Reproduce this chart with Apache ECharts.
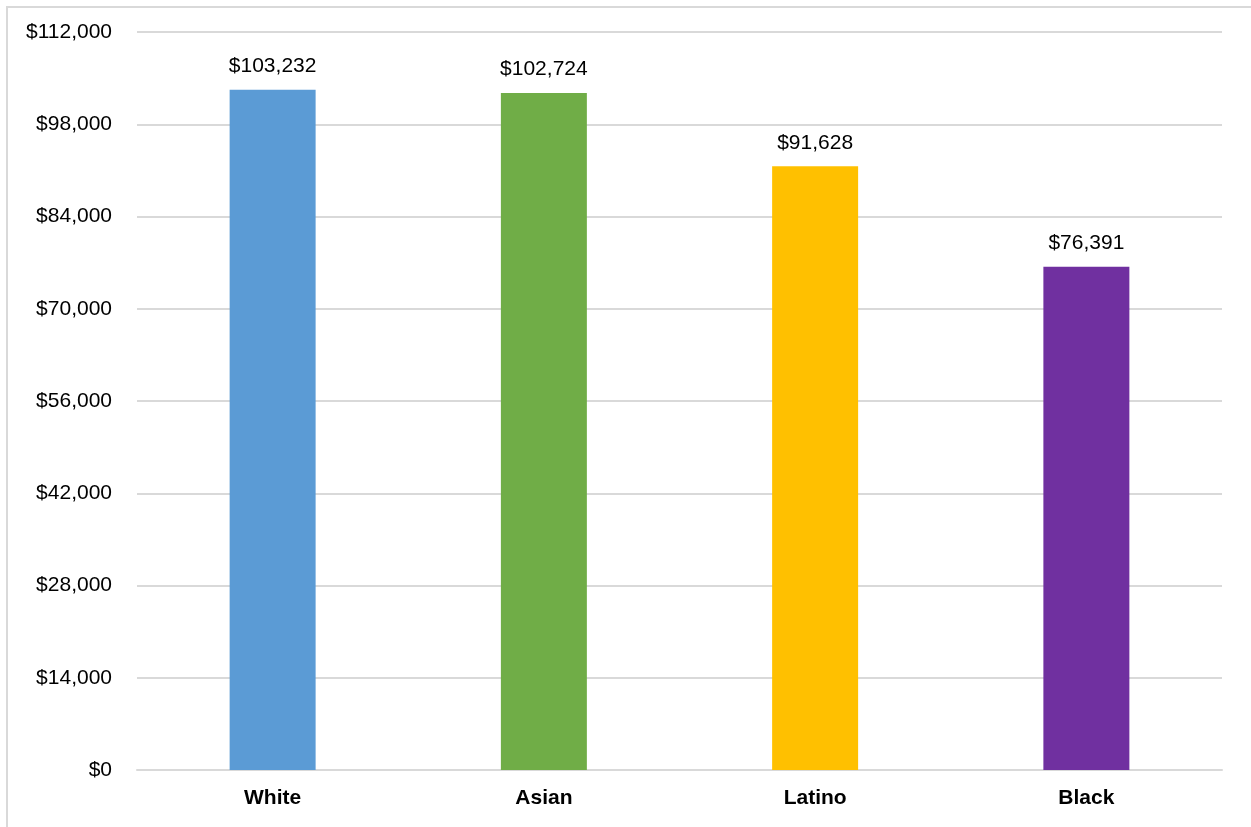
<!DOCTYPE html>
<html>
<head>
<meta charset="utf-8">
<script src="https://cdn.jsdelivr.net/npm/echarts@6/dist/echarts.min.js"></script>
<style>
html,body{margin:0;padding:0;background:#fff;}
#c{width:1251px;height:827px;}
</style>
</head>
<body>
<div id="c"></div>
<script>
var categories = ['White', 'Asian', 'Latino', 'Black'];
var values = [103232, 102724, 91628, 76391];
var barColors = ['#5B9BD5', '#70AD47', '#FFC000', '#7030A0'];
var yTicks = [0, 14000, 28000, 42000, 56000, 70000, 84000, 98000, 112000];

function money(v) {
  return '$' + Number(v).toLocaleString('en-US');
}

var FONT = 'Liberation Sans';
var chart = echarts.init(document.getElementById('c'));
chart.setOption({
  animation: false,
  backgroundColor: '#fff',
  textStyle: { fontFamily: FONT },
  graphic: [{
    type: 'rect',
    shape: { x: 7, y: 7, width: 1300, height: 900 },
    style: { fill: 'none', stroke: '#d9d9d9', lineWidth: 2 },
    silent: true
  }],
  grid: { left: 137, right: 29, top: 32, bottom: 57 },
  xAxis: {
    type: 'category',
    data: categories,
    axisTick: { show: false },
    axisLine: { lineStyle: { color: '#d9d9d9', width: 2 } },
    axisLabel: { color: '#000', fontSize: 21, fontWeight: 'bold', margin: 18, fontFamily: FONT }
  },
  yAxis: {
    type: 'value',
    min: yTicks[0],
    max: yTicks[yTicks.length - 1],
    interval: yTicks[1] - yTicks[0],
    axisLine: { show: false },
    axisTick: { show: false },
    splitLine: { lineStyle: { color: '#d9d9d9', width: 2 } },
    axisLabel: { color: '#000', fontSize: 21, margin: 25, formatter: money, fontFamily: FONT }
  },
  series: [{
    type: 'bar',
    data: values.map(function (v, i) { return { value: v, itemStyle: { color: barColors[i] } }; }),
    barWidth: '31.7%',
    label: {
      show: true,
      position: 'top',
      distance: 13,
      color: '#000',
      fontSize: 21,
      fontFamily: FONT,
      formatter: function (p) { return money(p.value); }
    }
  }]
});
</script>
</body>
</html>
